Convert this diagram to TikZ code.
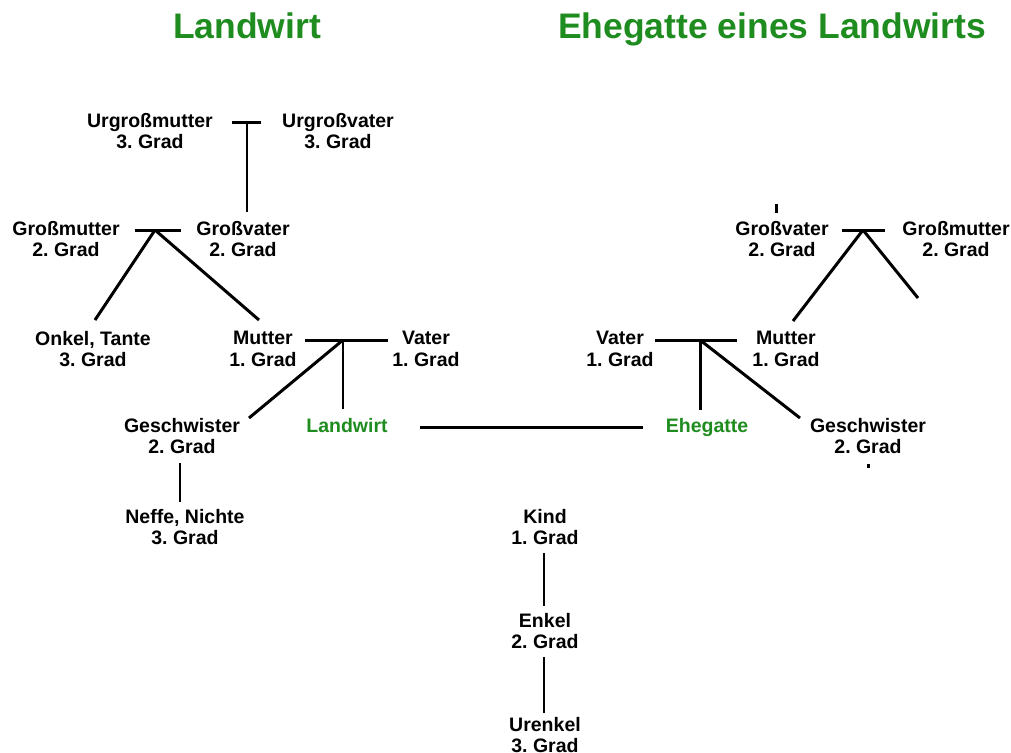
\documentclass[tikz,border=0pt]{standalone}
\usepackage{fontspec}
\setmainfont{Liberation Sans}
\definecolor{gruen}{RGB}{30,140,30}
\frenchspacing
\begin{document}
\begin{tikzpicture}[x=0.02cm, y=-0.02cm]
			\tikzset{grad/.style={align=center, font=\bfseries\fontsize{11.1}{12.2}\selectfont, inner sep=0pt}, titel/.style={font=\bfseries\fontsize{20.2}{22}\selectfont, text=gruen, inner sep=0pt, anchor=base}, ich/.style={grad, text=gruen, anchor=base}, linie/.style={line width=1.7pt}};
			\useasboundingbox (0,0) rectangle (1011,752);

			\node[titel] (t1) at ( 247,  38) {Landwirt};
			\node[titel] (t2) at ( 772,  38) {Ehegatte eines Landwirts};

			\node[grad] (ugm) at ( 150, 131) {Urgroßmutter\\3. Grad};
			\node[grad] (ugv) at ( 338, 131) {Urgroßvater\\3. Grad};
			\node[grad] (gm1) at (  66, 239) {Großmutter\\2. Grad};
			\node[grad] (gv1) at ( 243, 239) {Großvater\\2. Grad};
			\node[grad] (on1) at (  93, 349) {Onkel, Tante\\3. Grad};
			\node[grad] (mu1) at ( 263, 349) {Mutter\\1. Grad};
			\node[grad] (va1) at ( 426, 349) {Vater\\1. Grad};
			\node[grad] (ge1) at ( 182, 436) {Geschwister\\2. Grad};
			\node[ich ] (lw)  at ( 347, 432) {Landwirt};
			\node[grad] (ne1) at ( 185, 527) {Neffe, Nichte\\3. Grad};

			\node[grad] (gv2) at ( 782, 239) {Großvater\\2. Grad};
			\node[grad] (gm2) at ( 956, 239) {Großmutter\\2. Grad};
			\node[grad] (va2) at ( 620, 349) {Vater\\1. Grad};
			\node[grad] (mu2) at ( 786, 349) {Mutter\\1. Grad};
			\node[ich ] (eg)  at ( 707, 432) {Ehegatte};
			\node[grad] (ge2) at ( 868, 436) {Geschwister\\2. Grad};

			\node[grad] (ki)  at ( 545, 527) {Kind\\1. Grad};
			\node[grad] (en)  at ( 545, 631) {Enkel\\2. Grad};
			\node[grad] (ue)  at ( 545, 735) {Urenkel\\3. Grad};

			% Ehe-Balken
			\coordinate (e0l) at ( 232, 122); \coordinate (e0r) at ( 261, 122); \coordinate (e0) at ( 247, 122);
			\coordinate (e1l) at ( 135, 230); \coordinate (e1r) at ( 181, 230); \coordinate (e1) at ( 155, 230);
			\coordinate (e2l) at ( 305, 340); \coordinate (e2r) at ( 388, 340); \coordinate (e2) at ( 343, 340);
			\coordinate (e3l) at ( 842, 230); \coordinate (e3r) at ( 885, 230); \coordinate (e3) at ( 863, 230);
			\coordinate (e4l) at ( 655, 340); \coordinate (e4r) at ( 737, 340); \coordinate (e4) at ( 700, 340);

			% Enden der Linien
			\coordinate (p0) at ( 247, 212);
			\coordinate (p1) at (  95, 320);
			\coordinate (p2) at ( 259, 320);
			\coordinate (p3) at ( 249, 418);
			\coordinate (p4) at ( 343, 409);
			\coordinate (p5) at ( 793, 321);
			\coordinate (p6) at ( 918, 298);
			\coordinate (p7) at ( 700, 410);
			\coordinate (p8) at ( 800, 418);
			\coordinate (p9) at ( 776, 204);
			\coordinate (p10) at ( 776, 213);
			\coordinate (p11) at ( 868, 464);
			\coordinate (p12) at ( 868, 468);
			\coordinate (h1) at ( 420, 427);
			\coordinate (h2) at ( 643, 427);
			\coordinate (k1) at ( 180, 463);
			\coordinate (k2) at ( 180, 502);
			\coordinate (k3) at ( 544, 553);
			\coordinate (k4) at ( 544, 606);
			\coordinate (k5) at ( 544, 657);
			\coordinate (k6) at ( 544, 713);

			\draw[linie] (e0l) -- (e0r);
			\draw[linie] (e1l) -- (e1r);
			\draw[linie] (e2l) -- (e2r);
			\draw[linie] (e3l) -- (e3r);
			\draw[linie] (e4l) -- (e4r);

			\draw[linie] (e0) -- (p0);
			\draw[linie] (e1) -- (p1);
			\draw[linie] (e1) -- (p2);
			\draw[linie] (e2) -- (p3);
			\draw[linie] (e2) -- (p4);
			\draw[linie] (e3) -- (p5);
			\draw[linie] (e3) -- (p6);
			\draw[linie] (e4) -- (p7);
			\draw[linie] (e4) -- (p8);
			\draw[linie] (p9) -- (p10);
			\draw[linie] (p11) -- (p12);
			\draw[linie] (h1) -- (h2);
			\draw[linie] (k1) -- (k2);
			\draw[linie] (k3) -- (k4);
			\draw[linie] (k5) -- (k6);

		\end{tikzpicture}
\end{document}
